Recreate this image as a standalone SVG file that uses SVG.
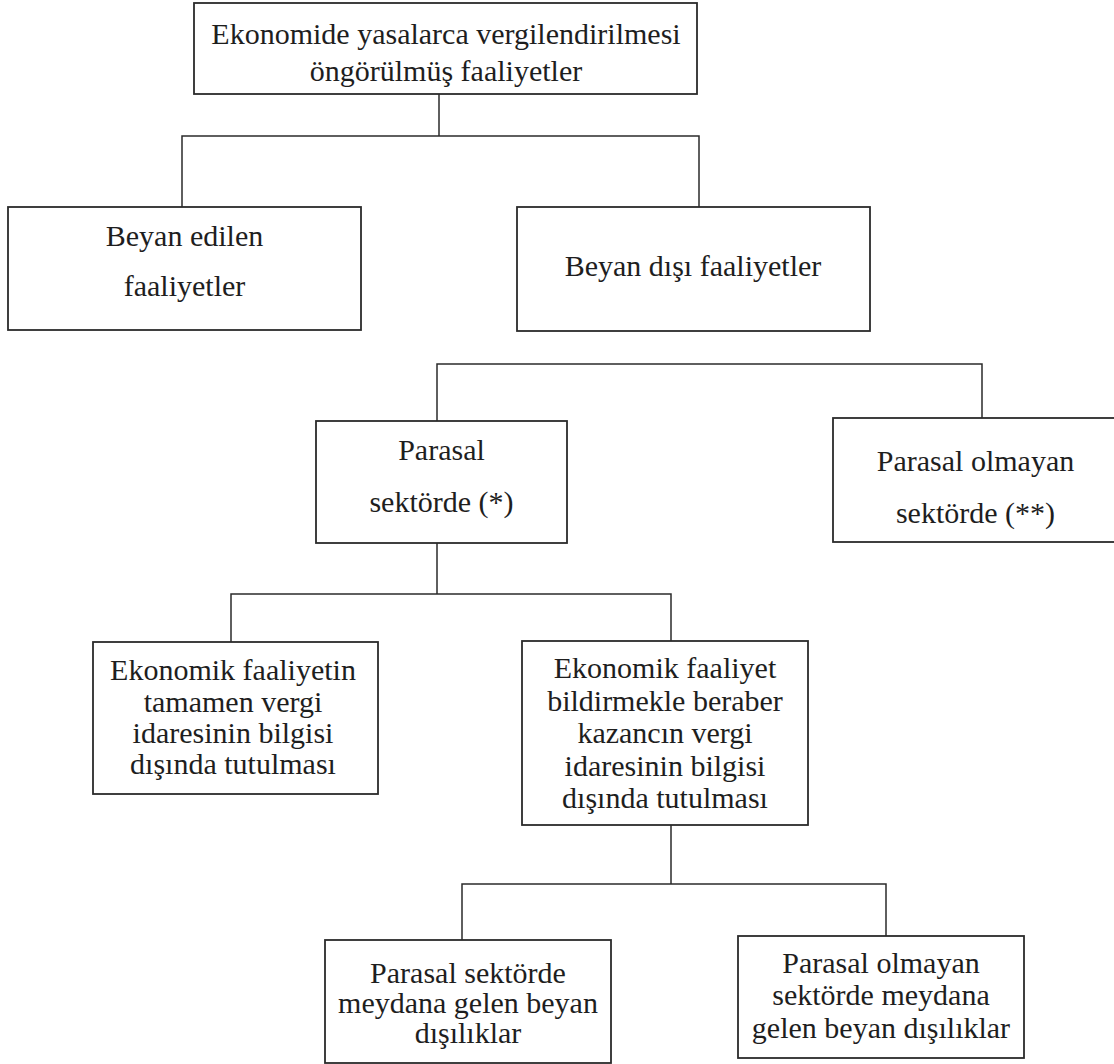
<svg xmlns="http://www.w3.org/2000/svg" width="1114" height="1064" viewBox="0 0 1114 1064">
<style>
.box{fill:#fff;stroke:#2b2b2b;stroke-width:1.8}
.ln{fill:none;stroke:#2b2b2b;stroke-width:1.5}
.t{font-family:'Liberation Serif',serif;font-size:30px;fill:#1e1e1e;text-anchor:middle}
</style>
<rect width="1114" height="1064" fill="#fff"/>
<g id="connectors">
<path class="ln" d="M439 94V136M182 207V136H699V207"/>
<path class="ln" d="M437 421V364H982V418"/>
<path class="ln" d="M437 543V594M231 642V594H671V641"/>
<path class="ln" d="M671 825V884M462 940V884H886V936"/>
</g>
<g class="t" font-family="Liberation Serif">
<g id="n-root">
<rect class="box" x="194" y="3" width="503" height="91"/>
<text x="446" y="44">Ekonomide yasalarca vergilendirilmesi</text>
<text x="446" y="81">öngörülmüş faaliyetler</text>
</g>
<g id="n-beyan-edilen">
<rect class="box" x="8" y="207" width="353" height="123"/>
<text x="184.5" y="246">Beyan edilen</text>
<text x="184.5" y="296">faaliyetler</text>
</g>
<g id="n-beyan-disi">
<rect class="box" x="517" y="207" width="353" height="124"/>
<text x="693" y="276">Beyan dışı faaliyetler</text>
</g>
<g id="n-parasal">
<rect class="box" x="316" y="421" width="251" height="122"/>
<text x="441.5" y="460">Parasal</text>
<text x="441.5" y="512">sektörde (*)</text>
</g>
<g id="n-parasal-olmayan">
<rect class="box" x="833" y="418" width="285" height="124"/>
<text x="975.5" y="471">Parasal olmayan</text>
<text x="975.5" y="523">sektörde (**)</text>
</g>
<g id="n-tamamen">
<rect class="box" x="93" y="642" width="285" height="152"/>
<text x="233" y="680">Ekonomik faaliyetin</text>
<text x="233" y="712">tamamen vergi</text>
<text x="233" y="743">idaresinin bilgisi</text>
<text x="233" y="774">dışında tutulması</text>
</g>
<g id="n-kazanc">
<rect class="box" x="522" y="641" width="286" height="184"/>
<text x="665" y="678">Ekonomik faaliyet</text>
<text x="665" y="711">bildirmekle beraber</text>
<text x="665" y="743">kazancın vergi</text>
<text x="665" y="776">idaresinin bilgisi</text>
<text x="665" y="808">dışında tutulması</text>
</g>
<g id="n-parasal-beyan">
<rect class="box" x="325" y="940" width="286" height="123"/>
<text x="468" y="983">Parasal sektörde</text>
<text x="468" y="1013">meydana gelen beyan</text>
<text x="468" y="1043">dışılıklar</text>
</g>
<g id="n-parasal-olmayan-beyan">
<rect class="box" x="738" y="936" width="286" height="122"/>
<text x="881" y="973">Parasal olmayan</text>
<text x="881" y="1005">sektörde meydana</text>
<text x="881" y="1038">gelen beyan dışılıklar</text>
</g>
</g>
</svg>
